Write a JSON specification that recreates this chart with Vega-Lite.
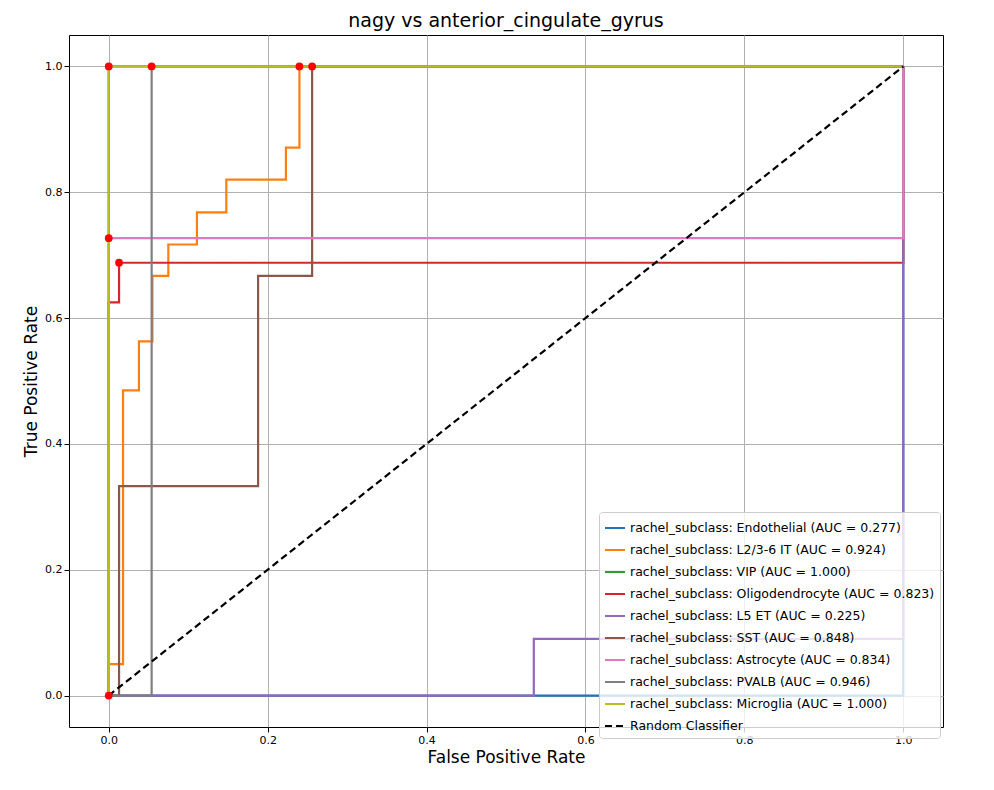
{
  "$schema": "https://vega.github.io/schema/vega-lite/v6.json",
  "width": 874,
  "height": 692,
  "padding": {"left": 22, "top": 12, "right": 5, "bottom": 5},
  "title": {"text": "nagy vs anterior_cingulate_gyrus", "fontSize": 19, "fontWeight": "normal", "font": "DejaVu Sans", "color": "black"},
  "config": {
    "font": "DejaVu Sans",
    "view": {"stroke": "black"},
    "axis": {"grid": true, "gridColor": "#b0b0b0", "domain": false, "tickColor": "black", "labelColor": "black", "labelFontSize": 11, "titleFontSize": 17, "titleFontWeight": "normal", "titleColor": "black", "labelFlush": false}
  },
  "datasets": {
    "curves": [
      {"s": "rachel_subclass: Endothelial (AUC = 0.277)", "o": 1, "fpr": 0, "tpr": 0},
      {"s": "rachel_subclass: Endothelial (AUC = 0.277)", "o": 2, "fpr": 1, "tpr": 0},
      {"s": "rachel_subclass: Endothelial (AUC = 0.277)", "o": 3, "fpr": 1, "tpr": 1},
      {"s": "rachel_subclass: L2/3-6 IT (AUC = 0.924)", "o": 1, "fpr": 0, "tpr": 0},
      {"s": "rachel_subclass: L2/3-6 IT (AUC = 0.924)", "o": 2, "fpr": 0, "tpr": 0.05},
      {"s": "rachel_subclass: L2/3-6 IT (AUC = 0.924)", "o": 3, "fpr": 0.018, "tpr": 0.05},
      {"s": "rachel_subclass: L2/3-6 IT (AUC = 0.924)", "o": 4, "fpr": 0.018, "tpr": 0.485},
      {"s": "rachel_subclass: L2/3-6 IT (AUC = 0.924)", "o": 5, "fpr": 0.038, "tpr": 0.485},
      {"s": "rachel_subclass: L2/3-6 IT (AUC = 0.924)", "o": 6, "fpr": 0.038, "tpr": 0.563},
      {"s": "rachel_subclass: L2/3-6 IT (AUC = 0.924)", "o": 7, "fpr": 0.055, "tpr": 0.563},
      {"s": "rachel_subclass: L2/3-6 IT (AUC = 0.924)", "o": 8, "fpr": 0.055, "tpr": 0.667},
      {"s": "rachel_subclass: L2/3-6 IT (AUC = 0.924)", "o": 9, "fpr": 0.075, "tpr": 0.667},
      {"s": "rachel_subclass: L2/3-6 IT (AUC = 0.924)", "o": 10, "fpr": 0.075, "tpr": 0.717},
      {"s": "rachel_subclass: L2/3-6 IT (AUC = 0.924)", "o": 11, "fpr": 0.111, "tpr": 0.717},
      {"s": "rachel_subclass: L2/3-6 IT (AUC = 0.924)", "o": 12, "fpr": 0.111, "tpr": 0.768},
      {"s": "rachel_subclass: L2/3-6 IT (AUC = 0.924)", "o": 13, "fpr": 0.148, "tpr": 0.768},
      {"s": "rachel_subclass: L2/3-6 IT (AUC = 0.924)", "o": 14, "fpr": 0.148, "tpr": 0.82},
      {"s": "rachel_subclass: L2/3-6 IT (AUC = 0.924)", "o": 15, "fpr": 0.223, "tpr": 0.82},
      {"s": "rachel_subclass: L2/3-6 IT (AUC = 0.924)", "o": 16, "fpr": 0.223, "tpr": 0.871},
      {"s": "rachel_subclass: L2/3-6 IT (AUC = 0.924)", "o": 17, "fpr": 0.24, "tpr": 0.871},
      {"s": "rachel_subclass: L2/3-6 IT (AUC = 0.924)", "o": 18, "fpr": 0.24, "tpr": 1},
      {"s": "rachel_subclass: L2/3-6 IT (AUC = 0.924)", "o": 19, "fpr": 1, "tpr": 1},
      {"s": "rachel_subclass: VIP (AUC = 1.000)", "o": 1, "fpr": 0, "tpr": 0},
      {"s": "rachel_subclass: VIP (AUC = 1.000)", "o": 2, "fpr": 0, "tpr": 1},
      {"s": "rachel_subclass: VIP (AUC = 1.000)", "o": 3, "fpr": 1, "tpr": 1},
      {"s": "rachel_subclass: Oligodendrocyte (AUC = 0.823)", "o": 1, "fpr": 0, "tpr": 0},
      {"s": "rachel_subclass: Oligodendrocyte (AUC = 0.823)", "o": 2, "fpr": 0, "tpr": 0.625},
      {"s": "rachel_subclass: Oligodendrocyte (AUC = 0.823)", "o": 3, "fpr": 0.013, "tpr": 0.625},
      {"s": "rachel_subclass: Oligodendrocyte (AUC = 0.823)", "o": 4, "fpr": 0.013, "tpr": 0.688},
      {"s": "rachel_subclass: Oligodendrocyte (AUC = 0.823)", "o": 5, "fpr": 1, "tpr": 0.688},
      {"s": "rachel_subclass: Oligodendrocyte (AUC = 0.823)", "o": 6, "fpr": 1, "tpr": 1},
      {"s": "rachel_subclass: L5 ET (AUC = 0.225)", "o": 1, "fpr": 0, "tpr": 0},
      {"s": "rachel_subclass: L5 ET (AUC = 0.225)", "o": 2, "fpr": 0.535, "tpr": 0},
      {"s": "rachel_subclass: L5 ET (AUC = 0.225)", "o": 3, "fpr": 0.535, "tpr": 0.09},
      {"s": "rachel_subclass: L5 ET (AUC = 0.225)", "o": 4, "fpr": 1, "tpr": 0.09},
      {"s": "rachel_subclass: L5 ET (AUC = 0.225)", "o": 5, "fpr": 1, "tpr": 1},
      {"s": "rachel_subclass: SST (AUC = 0.848)", "o": 1, "fpr": 0, "tpr": 0},
      {"s": "rachel_subclass: SST (AUC = 0.848)", "o": 2, "fpr": 0.013, "tpr": 0},
      {"s": "rachel_subclass: SST (AUC = 0.848)", "o": 3, "fpr": 0.013, "tpr": 0.333},
      {"s": "rachel_subclass: SST (AUC = 0.848)", "o": 4, "fpr": 0.188, "tpr": 0.333},
      {"s": "rachel_subclass: SST (AUC = 0.848)", "o": 5, "fpr": 0.188, "tpr": 0.667},
      {"s": "rachel_subclass: SST (AUC = 0.848)", "o": 6, "fpr": 0.256, "tpr": 0.667},
      {"s": "rachel_subclass: SST (AUC = 0.848)", "o": 7, "fpr": 0.256, "tpr": 1},
      {"s": "rachel_subclass: SST (AUC = 0.848)", "o": 8, "fpr": 1, "tpr": 1},
      {"s": "rachel_subclass: Astrocyte (AUC = 0.834)", "o": 1, "fpr": 0, "tpr": 0},
      {"s": "rachel_subclass: Astrocyte (AUC = 0.834)", "o": 2, "fpr": 0, "tpr": 0.727},
      {"s": "rachel_subclass: Astrocyte (AUC = 0.834)", "o": 3, "fpr": 1, "tpr": 0.727},
      {"s": "rachel_subclass: Astrocyte (AUC = 0.834)", "o": 4, "fpr": 1, "tpr": 1},
      {"s": "rachel_subclass: PVALB (AUC = 0.946)", "o": 1, "fpr": 0, "tpr": 0},
      {"s": "rachel_subclass: PVALB (AUC = 0.946)", "o": 2, "fpr": 0.054, "tpr": 0},
      {"s": "rachel_subclass: PVALB (AUC = 0.946)", "o": 3, "fpr": 0.054, "tpr": 1},
      {"s": "rachel_subclass: PVALB (AUC = 0.946)", "o": 4, "fpr": 1, "tpr": 1},
      {"s": "rachel_subclass: Microglia (AUC = 1.000)", "o": 1, "fpr": 0, "tpr": 0},
      {"s": "rachel_subclass: Microglia (AUC = 1.000)", "o": 2, "fpr": 0, "tpr": 1},
      {"s": "rachel_subclass: Microglia (AUC = 1.000)", "o": 3, "fpr": 1, "tpr": 1},
      {"s": "Random Classifier", "o": 1, "fpr": 0, "tpr": 0},
      {"s": "Random Classifier", "o": 2, "fpr": 1, "tpr": 1}
    ],
    "dots": [
      {"fpr": 0, "tpr": 0},
      {"fpr": 0, "tpr": 1},
      {"fpr": 0.054, "tpr": 1},
      {"fpr": 0.24, "tpr": 1},
      {"fpr": 0.256, "tpr": 1},
      {"fpr": 0, "tpr": 0.727},
      {"fpr": 0.013, "tpr": 0.688}
    ]
  },
  "layer": [
    {
      "data": {"name": "curves"},
      "mark": {"type": "line", "strokeWidth": 2.2, "clip": true},
      "encoding": {
        "x": {"field": "fpr", "type": "quantitative", "scale": {"domain": [-0.05, 1.05], "nice": false, "zero": false}, "axis": {"values": [0, 0.2, 0.4, 0.6, 0.8, 1], "format": ".1f", "title": "False Positive Rate"}},
        "y": {"field": "tpr", "type": "quantitative", "scale": {"domain": [-0.05, 1.05], "nice": false, "zero": false}, "axis": {"values": [0, 0.2, 0.4, 0.6, 0.8, 1], "format": ".1f", "title": "True Positive Rate"}},
        "order": {"field": "o"},
        "color": {
          "field": "s", "type": "nominal",
          "scale": {
            "domain": ["rachel_subclass: Endothelial (AUC = 0.277)", "rachel_subclass: L2/3-6 IT (AUC = 0.924)", "rachel_subclass: VIP (AUC = 1.000)", "rachel_subclass: Oligodendrocyte (AUC = 0.823)", "rachel_subclass: L5 ET (AUC = 0.225)", "rachel_subclass: SST (AUC = 0.848)", "rachel_subclass: Astrocyte (AUC = 0.834)", "rachel_subclass: PVALB (AUC = 0.946)", "rachel_subclass: Microglia (AUC = 1.000)", "Random Classifier"],
            "range": ["#1f77b4", "#ff7f0e", "#2ca02c", "#d62728", "#9467bd", "#8c564b", "#e377c2", "#7f7f7f", "#bcbd22", "black"]
          },
          "legend": {"title": null, "orient": "none", "legendX": 530, "legendY": 477, "symbolType": "stroke", "symbolStrokeWidth": 2, "symbolSize": 400, "labelFontSize": 12.5, "labelColor": "black", "fillColor": "rgba(255,255,255,0.8)", "strokeColor": "#cccccc", "padding": 5, "cornerRadius": 3, "rowPadding": 4, "labelLimit": 400}
        },
        "strokeDash": {
          "field": "s", "type": "nominal",
          "scale": {
            "domain": ["rachel_subclass: Endothelial (AUC = 0.277)", "rachel_subclass: L2/3-6 IT (AUC = 0.924)", "rachel_subclass: VIP (AUC = 1.000)", "rachel_subclass: Oligodendrocyte (AUC = 0.823)", "rachel_subclass: L5 ET (AUC = 0.225)", "rachel_subclass: SST (AUC = 0.848)", "rachel_subclass: Astrocyte (AUC = 0.834)", "rachel_subclass: PVALB (AUC = 0.946)", "rachel_subclass: Microglia (AUC = 1.000)", "Random Classifier"],
            "range": [[1, 0], [1, 0], [1, 0], [1, 0], [1, 0], [1, 0], [1, 0], [1, 0], [1, 0], [7, 4]]
          },
          "legend": {"title": null, "orient": "none", "legendX": 530, "legendY": 477, "symbolType": "stroke", "symbolStrokeWidth": 2, "symbolSize": 400, "labelFontSize": 12.5, "labelColor": "black", "fillColor": "rgba(255,255,255,0.8)", "strokeColor": "#cccccc", "padding": 5, "cornerRadius": 3, "rowPadding": 4, "labelLimit": 400}
        }
      }
    },
    {
      "data": {"name": "dots"},
      "mark": {"type": "circle", "color": "red", "size": 60, "opacity": 1},
      "encoding": {
        "x": {"field": "fpr", "type": "quantitative"},
        "y": {"field": "tpr", "type": "quantitative"}
      }
    }
  ]
}
